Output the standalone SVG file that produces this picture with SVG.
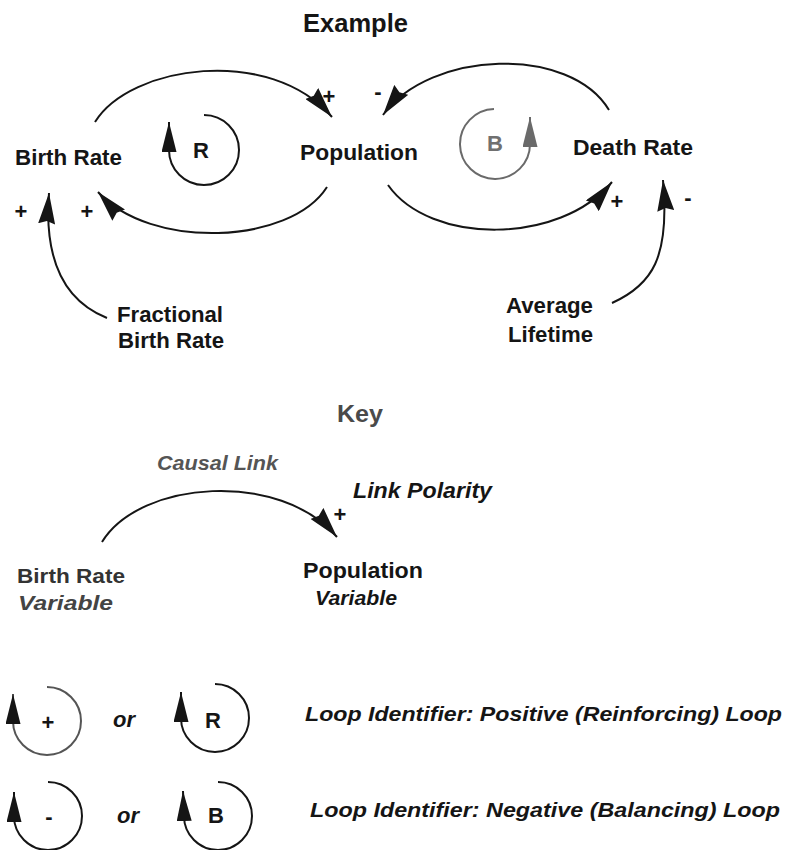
<svg xmlns="http://www.w3.org/2000/svg" width="788" height="850" viewBox="0 0 788 850">
  <defs>
    <style>
      text { font-family: "Liberation Sans", Arial, sans-serif; font-weight: bold; fill: #151515; }
      .lbl { font-size: 22px; }
      .it { font-style: italic; }
      .sign { font-size: 22px; text-anchor: middle; }
      .loopid { font-size: 22px; text-anchor: middle; }
      .link { fill: none; stroke: #151515; stroke-width: 2; }
      .grey { stroke: #6a6a6a; }
    </style>
    <marker id="ah" markerUnits="userSpaceOnUse" viewBox="0 0 31 17" refX="31" refY="8.5" markerWidth="31" markerHeight="17" orient="auto">
      <path d="M0,0 L31,8.5 L0,17 L3,8.5 Z" fill="#151515"/>
    </marker>
    <marker id="ahL" markerUnits="userSpaceOnUse" viewBox="0 0 30 15" refX="30" refY="7.5" markerWidth="30" markerHeight="15" orient="auto">
      <path d="M0,0 L30,7.5 L0,15 Z" fill="#151515"/>
    </marker>
    <marker id="ahG" markerUnits="userSpaceOnUse" viewBox="0 0 30 15" refX="30" refY="7.5" markerWidth="30" markerHeight="15" orient="auto">
      <path d="M0,0 L30,7.5 L0,15 Z" fill="#6a6a6a"/>
    </marker>
  </defs>

  <rect x="0" y="0" width="788" height="850" fill="#ffffff"/>

  <text id="title" x="303" y="32" style="font-size:25px" textLength="105" lengthAdjust="spacingAndGlyphs">Example</text>

  <g id="birth-rate"><text class="lbl" x="15" y="165" textLength="107" lengthAdjust="spacingAndGlyphs">Birth Rate</text></g>
  <g id="population"><text class="lbl" x="300" y="160" textLength="118" lengthAdjust="spacingAndGlyphs">Population</text></g>
  <g id="death-rate"><text class="lbl" x="573" y="155" textLength="120" lengthAdjust="spacingAndGlyphs">Death Rate</text></g>
  <g id="fractional-birth-rate">
    <text class="lbl" x="117" y="322" textLength="106" lengthAdjust="spacingAndGlyphs">Fractional</text>
    <text class="lbl" x="118" y="348" textLength="106" lengthAdjust="spacingAndGlyphs">Birth Rate</text>
  </g>
  <g id="average-lifetime">
    <text class="lbl" x="506" y="313" textLength="87" lengthAdjust="spacingAndGlyphs">Average</text>
    <text class="lbl" x="508" y="342" textLength="85" lengthAdjust="spacingAndGlyphs">Lifetime</text>
  </g>

  <g id="loop-R">
    <path class="link" d="M204,115 A35,35 0 1,1 169,150 L169,122" marker-end="url(#ahL)"/>
    <text class="loopid" x="201" y="158">R</text>
  </g>
  <g id="loop-B">
    <path class="link grey" d="M494,109 A35,35 0 1,0 530,144 L530,117" marker-end="url(#ahG)"/>
    <text class="loopid" x="495" y="151" style="fill:#707070">B</text>
  </g>

  <g id="connectors">
    <path class="link" d="M95,122 C130,65 270,45 332,117" marker-end="url(#ah)"/>
    <path class="link" d="M327,187 C290,245 150,250 98,192" marker-end="url(#ah)"/>
    <path class="link" d="M107,318 C62,300 44,258 49,193" marker-end="url(#ah)"/>
    <path class="link" d="M609,110 C570,45 430,50 383,115" marker-end="url(#ah)"/>
    <path class="link" d="M388,185 C430,245 560,245 612,182" marker-end="url(#ah)"/>
    <path class="link" d="M612,303 C652,285 670,258 663,180" marker-end="url(#ah)"/>
  </g>

  <g id="polarities">
    <text class="sign" x="329" y="104">+</text>
    <text class="sign" x="378" y="99">-</text>
    <text class="sign" x="21" y="219">+</text>
    <text class="sign" x="87" y="219">+</text>
    <text class="sign" x="617" y="209">+</text>
    <text class="sign" x="688" y="205">-</text>
  </g>

  <g id="key">
    <text x="337" y="422" style="font-size:24px;fill:#4a4a4a" textLength="46" lengthAdjust="spacingAndGlyphs">Key</text>
    <text class="it" x="157" y="470" style="font-size:21px;fill:#555" textLength="121" lengthAdjust="spacingAndGlyphs">Causal Link</text>
    <text class="it" x="353" y="498" style="font-size:22px" textLength="139" lengthAdjust="spacingAndGlyphs">Link Polarity</text>
    <g id="key-birth-rate">
      <text x="17" y="583" style="font-size:21px;fill:#333" textLength="108" lengthAdjust="spacingAndGlyphs">Birth Rate</text>
      <text class="it" x="18" y="610" style="font-size:21px;fill:#444" textLength="95" lengthAdjust="spacingAndGlyphs">Variable</text>
    </g>
    <g id="key-population">
      <text x="303" y="578" style="font-size:22px" textLength="120" lengthAdjust="spacingAndGlyphs">Population</text>
      <text class="it" x="315" y="605" style="font-size:21px" textLength="82" lengthAdjust="spacingAndGlyphs">Variable</text>
    </g>
    <path class="link" d="M102,542 C140,480 280,470 337,537" marker-end="url(#ah)"/>
    <text class="sign" x="340" y="522">+</text>
  </g>

  <g id="loop-identifier-positive">
    <path class="link" d="M47,687 A34,34 0 1,1 13,721 L13,694" style="stroke:#555" marker-end="url(#ahL)"/>
    <text class="sign" x="48" y="730">+</text>
    <text class="it" x="113" y="727" style="font-size:22px">or</text>
    <path class="link" d="M215,684 A34,34 0 1,1 181,718 L181,692" marker-end="url(#ahL)"/>
    <text class="loopid" x="213" y="728">R</text>
    <text class="it" x="305" y="721" style="font-size:21px" textLength="477" lengthAdjust="spacingAndGlyphs">Loop Identifier: Positive (Reinforcing) Loop</text>
  </g>

  <g id="loop-identifier-negative">
    <path class="link" d="M48,782 A34,34 0 1,1 14,816 L14,792" marker-end="url(#ahL)"/>
    <text class="sign" x="49" y="824">-</text>
    <text class="it" x="117" y="823" style="font-size:22px">or</text>
    <path class="link" d="M218,782 A34,34 0 1,1 184,816 L183,791" marker-end="url(#ahL)"/>
    <text class="loopid" x="216" y="823">B</text>
    <text class="it" x="310" y="817" style="font-size:21px" textLength="470" lengthAdjust="spacingAndGlyphs">Loop Identifier: Negative (Balancing) Loop</text>
  </g>
</svg>
